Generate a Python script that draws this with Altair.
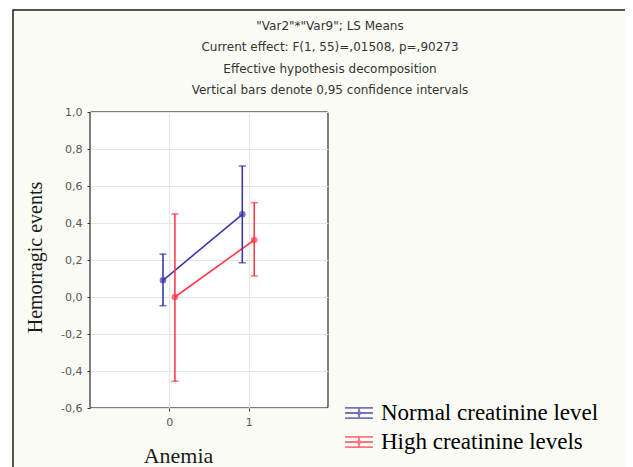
import altair as alt
import pandas as pd

# Data
groups = ["Normal creatinine level", "Normal creatinine level", "High creatinine levels", "High creatinine levels"]
anemia = [0, 1, 0, 1]
means = [0.09, 0.447, 0.0, 0.308]
lower = [-0.047, 0.185, -0.455, 0.114]
upper = [0.232, 0.708, 0.449, 0.51]

series = ["Normal creatinine level", "High creatinine levels"]
colors = ["#3a3aa6", "#ff3a4c"]
y_ticks = [-0.6, -0.4, -0.2, 0.0, 0.2, 0.4, 0.6, 0.8, 1.0]
x_ticks = [0, 1]
title_lines = [
    '"Var2"*"Var9"; LS Means',
    "Current effect: F(1, 55)=,01508, p=,90273",
    "Effective hypothesis decomposition",
    "Vertical bars denote 0,95 confidence intervals",
]

df = pd.DataFrame({"group": groups, "anemia": anemia, "mean": means,
                   "lower": lower, "upper": upper})

base = alt.Chart(df).transform_calculate(
    xpos="datum.anemia + (datum.group === 'Normal creatinine level' ? -0.08 : 0.07)"
)

xscale = alt.Scale(domain=[-1, 2], nice=False, zero=False)
xaxis = alt.Axis(values=x_ticks, title="Anemia", format="d",
                 titleX=88, titleY=47, titleBaseline="middle",
                 titleFont="Liberation Serif", titleFontSize=22,
                 titleFontWeight="normal", titleColor="#1a1a1a",
                 labelFont="DejaVu Sans", labelFontSize=11, labelColor="#555",
                 labelPadding=5, tickSize=3, tickColor="#333",
                 domain=False, grid=True, gridColor="#e4e4ea")
yscale = alt.Scale(domain=[-0.6, 1.0], nice=False, zero=False)
yaxis = alt.Axis(values=y_ticks, title="Hemorragic events",
                 labelExpr="replace(replace(format(datum.value, '.1f'), '.', ','), '\u2212', '-')",
                 labelOverlap=False,
                 titleX=-55, titleY=145, titleAlign="center",
                 titleBaseline="middle", titleAngle=270,
                 titleFont="Liberation Serif", titleFontSize=20,
                 titleFontWeight="normal", titleColor="#1a1a1a",
                 labelFont="DejaVu Sans", labelFontSize=11, labelColor="#555",
                 labelPadding=5, tickSize=3, tickColor="#333",
                 domain=False, grid=True, gridColor="#e4e4ea")

legend = alt.Legend(
    title=None, orient="none", legendX=254, legendY=286,
    symbolType="M-1,-0.36H1M-1,0H1M-1,0.36H1M0,-0.36V0.36M0.1,0A0.1,0.1,0,1,1,-0.1,0A0.1,0.1,0,1,1,0.1,0Z",
    symbolSize=780, symbolStrokeWidth=1.8, symbolFillColor="transparent",
    labelFont="Liberation Serif", labelFontSize=23, labelFontWeight="normal",
    labelColor="#000000", labelOffset=7, rowPadding=2, labelLimit=400,
)

C = alt.Color("group:N", scale=alt.Scale(domain=series, range=colors), legend=legend)
X = alt.X("xpos:Q", scale=xscale, axis=xaxis)

lines = base.mark_line(strokeWidth=1.6).encode(
    x=X, y=alt.Y("mean:Q", scale=yscale, axis=yaxis), color=C, detail="group:N",
)
rules = base.mark_rule(strokeWidth=1.6).encode(
    x=X, y=alt.Y("lower:Q", scale=yscale, axis=yaxis), y2="upper:Q", color=C,
)
tick_lo = base.mark_tick(orient="horizontal", size=7, thickness=1.6).encode(
    x=X, y=alt.Y("lower:Q", scale=yscale, axis=yaxis), color=C,
)
tick_hi = base.mark_tick(orient="horizontal", size=7, thickness=1.6).encode(
    x=X, y=alt.Y("upper:Q", scale=yscale, axis=yaxis), color=C,
)
points = base.mark_point(filled=False, shape="circle", size=10, strokeWidth=3.5).encode(
    x=X, y=alt.Y("mean:Q", scale=yscale, axis=yaxis), color=C,
)

frame = alt.Chart(pd.DataFrame({"k": [0]})).mark_rect(
    fill="transparent", stroke="#1a1a1a", strokeWidth=1.5, clip=False
).encode(x=alt.value(-77), x2=alt.value(560), y=alt.value(-102), y2=alt.value(380))

chart = alt.layer(frame, lines, rules, tick_lo, tick_hi, points).properties(
    width=238, height=296,
    title=alt.TitleParams(text=title_lines, anchor="middle", dx=121, dy=88,
                          font="DejaVu Sans", fontSize=12, fontWeight="normal",
                          color="#333", lineHeight=21.5, offset=0),
    autosize=alt.AutoSizeParams(type="none"),
    padding={"left": 82, "top": 104, "right": 297, "bottom": 59},
    background="#fcfcf6",
).configure_view(stroke="#555", strokeWidth=1.5, fill="white", cornerRadius=2)

chart.save("out.html", embed_options={"renderer": "svg", "actions": False})
